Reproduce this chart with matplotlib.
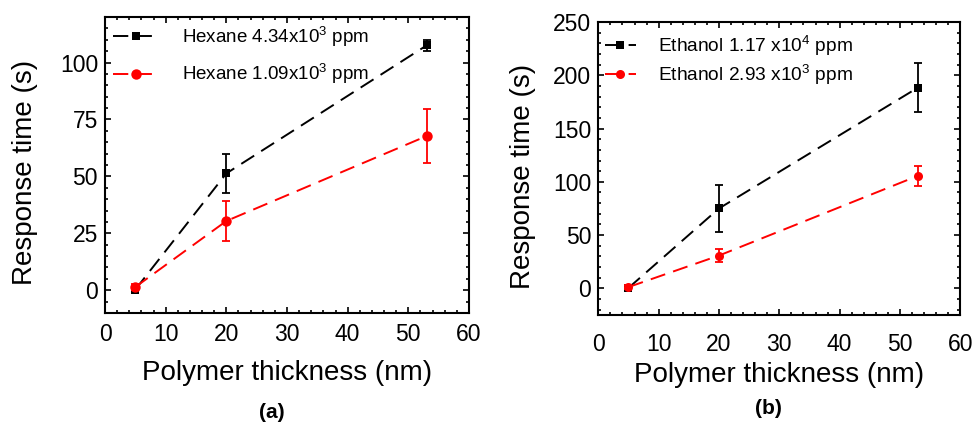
import matplotlib
matplotlib.use("Agg")
import numpy as np
import matplotlib.pyplot as plt
from matplotlib.ticker import MultipleLocator
from matplotlib.legend_handler import HandlerLine2D

plt.rcParams['font.family'] = ['Liberation Sans', 'DejaVu Sans']
plt.rcParams['mathtext.default'] = 'regular'
plt.rcParams['lines.scale_dashes'] = False

# Polymer thickness (nm)
thickness = [5, 20, 53]

# (a) Hexane response times (s) and error bars
hexane_hi = [0.3, 51.3, 107.5]
hexane_hi_err = [1.5, 8.4, 2.5]
hexane_lo = [1.4, 30.4, 67.7]
hexane_lo_err = [1.5, 8.6, 12.0]
hexane_labels = ['Hexane 4.34x10$^3$ ppm', 'Hexane 1.09x10$^3$ ppm']

# (b) Ethanol response times (s) and error bars
ethanol_hi = [0.4, 75.0, 188.5]
ethanol_hi_err = [2.0, 22.0, 23.0]
ethanol_lo = [1.2, 30.8, 105.7]
ethanol_lo_err = [2.0, 6.5, 9.5]
ethanol_labels = ['Ethanol 1.17 x10$^4$ ppm', 'Ethanol 2.93 x10$^3$ ppm']

W, H = 973, 422
fig = plt.figure(figsize=(W / 100, H / 100), dpi=100)


def px_axes(left, right, top, bottom):
    return fig.add_axes([left / W, (H - bottom) / H, (right - left) / W, (bottom - top) / H])


ax_a = px_axes(105, 469, 17, 313)
ax_b = px_axes(598.3, 960.3, 22, 315)

dash = (11, 6)


class OffsetMarkerHandler(HandlerLine2D):
    """Legend line handle with the marker placed at a fraction of its length."""

    def __init__(self, frac, **kw):
        super().__init__(**kw)
        self.frac = frac

    def get_xdata(self, legend, xdescent, ydescent, width, height, fontsize):
        xdata = np.array([-xdescent, -xdescent + width])
        xmark = np.array([-xdescent + self.frac * width])
        return xdata, xmark


def draw_series(ax, y, err, color, marker, ms):
    line, = ax.plot(thickness, y, color=color, lw=1.4, linestyle=(0, dash),
                    marker=marker, ms=ms, markeredgewidth=0, zorder=3)
    ax.errorbar(thickness, y, yerr=err, fmt='none', ecolor=color,
                elinewidth=1.3, capsize=2.8, capthick=1.3, zorder=3)
    return line


def style_axes(ax, ymajor, yminor, xpad):
    for sp in ax.spines.values():
        sp.set_linewidth(1.5)
    ax.set_xlim(0, 60)
    ax.xaxis.set_major_locator(MultipleLocator(10))
    ax.xaxis.set_minor_locator(MultipleLocator(2))
    ax.yaxis.set_major_locator(MultipleLocator(ymajor))
    ax.yaxis.set_minor_locator(MultipleLocator(yminor))
    ax.tick_params(which='both', direction='in', top=True, right=True, width=1.2)
    ax.tick_params(which='major', length=4.5, labelsize=16.5)
    ax.tick_params(which='minor', length=2.5)
    ax.tick_params(axis='x', which='major', pad=xpad)
    ax.tick_params(axis='y', which='major', pad=5)


# Panel (a)
la1 = draw_series(ax_a, hexane_hi, hexane_hi_err, 'black', 's', 6)
la2 = draw_series(ax_a, hexane_lo, hexane_lo_err, 'red', 'o', 7.5)
ax_a.set_ylim(-10, 120)
style_axes(ax_a, 25, 5, 7)
ax_a.set_xlabel('Polymer thickness (nm)', fontsize=20, va='center')
ax_a.set_ylabel('Response time (s)', fontsize=20, va='center')
ax_a.xaxis.set_label_coords(0.501, -0.203)
ax_a.yaxis.set_label_coords(-0.22, 0.476)
ax_a.legend([la1, la2], hexane_labels, loc='upper left', bbox_to_anchor=(0.0, 1.0),
            borderaxespad=0, frameon=False, fontsize=13.5, handlelength=2.5,
            handletextpad=1.23, labelspacing=0.72, numpoints=1,
            handler_map={la1: OffsetMarkerHandler(0.64), la2: OffsetMarkerHandler(0.64)})

# Panel (b)
lb1 = draw_series(ax_b, ethanol_hi, ethanol_hi_err, 'black', 's', 6)
lb2 = draw_series(ax_b, ethanol_lo, ethanol_lo_err, 'red', 'o', 6.5)
ax_b.set_ylim(-25, 250)
style_axes(ax_b, 50, 10, 13)
ax_b.set_xlabel('Polymer thickness (nm)', fontsize=20, va='center')
ax_b.set_ylabel('Response time (s)', fontsize=20, va='center')
ax_b.xaxis.set_label_coords(0.5006, -0.205)
ax_b.yaxis.set_label_coords(-0.209, 0.474)
ax_b.legend([lb1, lb2], ethanol_labels, loc='upper left', bbox_to_anchor=(-0.003, 0.986),
            borderaxespad=0, frameon=False, fontsize=13.8, handlelength=1.6,
            handletextpad=1.15, labelspacing=0.25, numpoints=1,
            handler_map={lb1: OffsetMarkerHandler(0.77), lb2: OffsetMarkerHandler(0.77)})

fig.text(271.7 / W, 1 - 412.5 / H, '(a)', ha='center', va='center', fontsize=15, fontweight='bold')
fig.text(768 / W, 1 - 408 / H, '(b)', ha='center', va='center', fontsize=15, fontweight='bold')

fig.savefig('out.png', dpi=100)
